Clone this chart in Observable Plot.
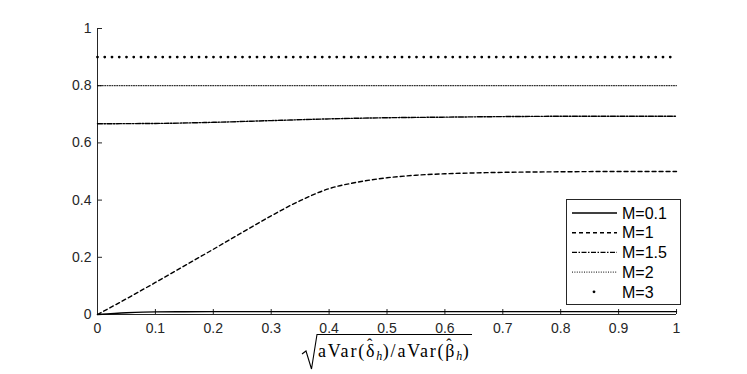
<!DOCTYPE html>
<html>
<head>
<meta charset="utf-8">
<script src="https://cdn.jsdelivr.net/npm/d3@7"></script>
<script src="https://cdn.jsdelivr.net/npm/@observablehq/plot@0.6"></script>
<style>
  body { margin: 0; background: #fff; }
  #wrap { position: relative; width: 747px; height: 374px; }
  #xlabel { position: absolute; top: 341px; left: 318px; white-space: nowrap; line-height: 20px;
    font-family: "Liberation Serif", "DejaVu Serif", serif; font-size: 18px; letter-spacing: 1.8px; color: #000; pointer-events: none; }
  #xlabel .hat { position: relative; display: inline-block; }
  #xlabel .hat::before { content: "ˆ"; position: absolute; left: 1px; top: -6px; font-size: 16px; }
  #xlabel sub { font-size: 12px; font-style: italic; vertical-align: -3px; line-height: 0; letter-spacing: 0.5px; }
</style>
</head>
<body>
<div id="wrap"></div>
<script>
// Tick labels
const xTicks = [0, 0.1, 0.2, 0.3, 0.4, 0.5, 0.6, 0.7, 0.8, 0.9, 1];
const yTicks = [0, 0.2, 0.4, 0.6, 0.8, 1];

// Series names
const seriesNames = ["M=0.1", "M=1", "M=1.5", "M=2", "M=3"];

// M=0.1
const xM01 = [0, 0.05, 0.1, 0.15, 0.2, 0.4, 0.6, 0.8, 1];
const yM01 = [0, 0.006, 0.0093, 0.0097, 0.0099, 0.0099, 0.0099, 0.0099, 0.0099];
// M=1
const xM1 = [0, 0.05, 0.1, 0.15, 0.2, 0.25, 0.3, 0.35, 0.4, 0.45, 0.5, 0.55, 0.6, 0.65, 0.7, 0.8, 0.9, 1];
const yM1 = [0, 0.055, 0.112, 0.17, 0.228, 0.287, 0.345, 0.398, 0.44, 0.463, 0.478, 0.487, 0.492, 0.495, 0.497, 0.499, 0.5, 0.5];
// M=1.5
const xM15 = [0, 0.1, 0.2, 0.3, 0.4, 0.5, 0.6, 0.7, 0.8, 0.9, 1];
const yM15 = [0.667, 0.668, 0.672, 0.678, 0.684, 0.688, 0.690, 0.692, 0.693, 0.693, 0.693];
// M=2
const xM2 = [0, 1];
const yM2 = [0.8, 0.8];
// M=3
const xM3 = [0, 1];
const yM3 = [0.9, 0.9];

const toRows = (xs, ys) => xs.map((x, i) => ({x, y: ys[i]}));

const styles = [
  {stroke: "#000", strokeWidth: 1.4},
  {stroke: "#000", strokeWidth: 1.4, strokeDasharray: "4,3"},
  {stroke: "#000", strokeWidth: 1.4, strokeDasharray: "5,1.5,1.5,1.5"},
  {stroke: "#000", strokeWidth: 1, strokeDasharray: "1,1.4"},
  {stroke: "#000", strokeWidth: 2.8, strokeDasharray: "0,7.25", strokeLinecap: "round"}
];
const data = [toRows(xM01, yM01), toRows(xM1, yM1), toRows(xM15, yM15), toRows(xM2, yM2), toRows(xM3, yM3)];

const axisColor = "#262626";
const chart = Plot.plot({
  width: 747,
  height: 374,
  marginLeft: 97,
  marginRight: 71,
  marginTop: 28,
  marginBottom: 60,
  style: {fontFamily: "Liberation Sans, Arial, sans-serif", fontSize: "14px", color: axisColor, background: "#fff"},
  x: {domain: [0, 1]},
  y: {domain: [0, 1]},
  marks: [
    Plot.axisX({ticks: xTicks, tickSize: 0, tickPadding: 9, tickFormat: d => String(d), label: null}),
    Plot.axisY({ticks: yTicks, tickSize: 0, tickPadding: 6, tickFormat: d => String(d), label: null}),
    Plot.tickX(xTicks, {x: d => d, insetTop: 281, stroke: axisColor}),
    Plot.tickY(yTicks, {y: d => d, insetRight: 574, stroke: axisColor}),
    Plot.ruleX([0], {stroke: axisColor, strokeWidth: 1}),
    Plot.ruleY([0], {stroke: axisColor, strokeWidth: 1}),
    ...data.map((rows, i) => Plot.line(rows, {x: "x", y: "y", curve: "monotone-x", ...styles[i]}))
  ]
});
document.getElementById("wrap").appendChild(chart);

const svg = d3.select(chart);

// Radical sign for the x label
svg.append("path")
  .attr("d", "M302,354 L306,351 L311.5,369 L317,334.5 L472,334.5")
  .attr("fill", "none").attr("stroke", "#000").attr("stroke-width", 1.1).attr("stroke-linejoin", "miter");

// Legend
const lx = 566, ly = 199, lw = 114, lh = 105;
const lg = svg.append("g").attr("text-anchor", "start");
lg.append("rect").attr("x", lx + 0.5).attr("y", ly + 0.5).attr("width", lw).attr("height", lh)
  .attr("fill", "#fff").attr("stroke", axisColor).attr("stroke-width", 1);
seriesNames.forEach((name, i) => {
  const yy = ly + 14 + i * 19.7;
  const st = styles[i];
  if (i === 4) {
    lg.append("circle").attr("cx", lx + 28).attr("cy", yy).attr("r", 1.4).attr("fill", "#000");
  } else {
    lg.append("line").attr("x1", lx + 6).attr("x2", lx + 51).attr("y1", yy).attr("y2", yy)
      .attr("stroke", st.stroke).attr("stroke-width", st.strokeWidth)
      .attr("stroke-dasharray", st.strokeDasharray || null);
  }
  lg.append("text").attr("x", lx + 56).attr("y", yy).attr("dy", "0.36em")
    .attr("font-size", 16).attr("fill", "#000").text(name);
});
</script>
<div id="xlabel">aVar(<span class="hat">δ</span><sub>h</sub>)/aVar(<span class="hat">β</span><sub>h</sub>)</div>
</body>
</html>
